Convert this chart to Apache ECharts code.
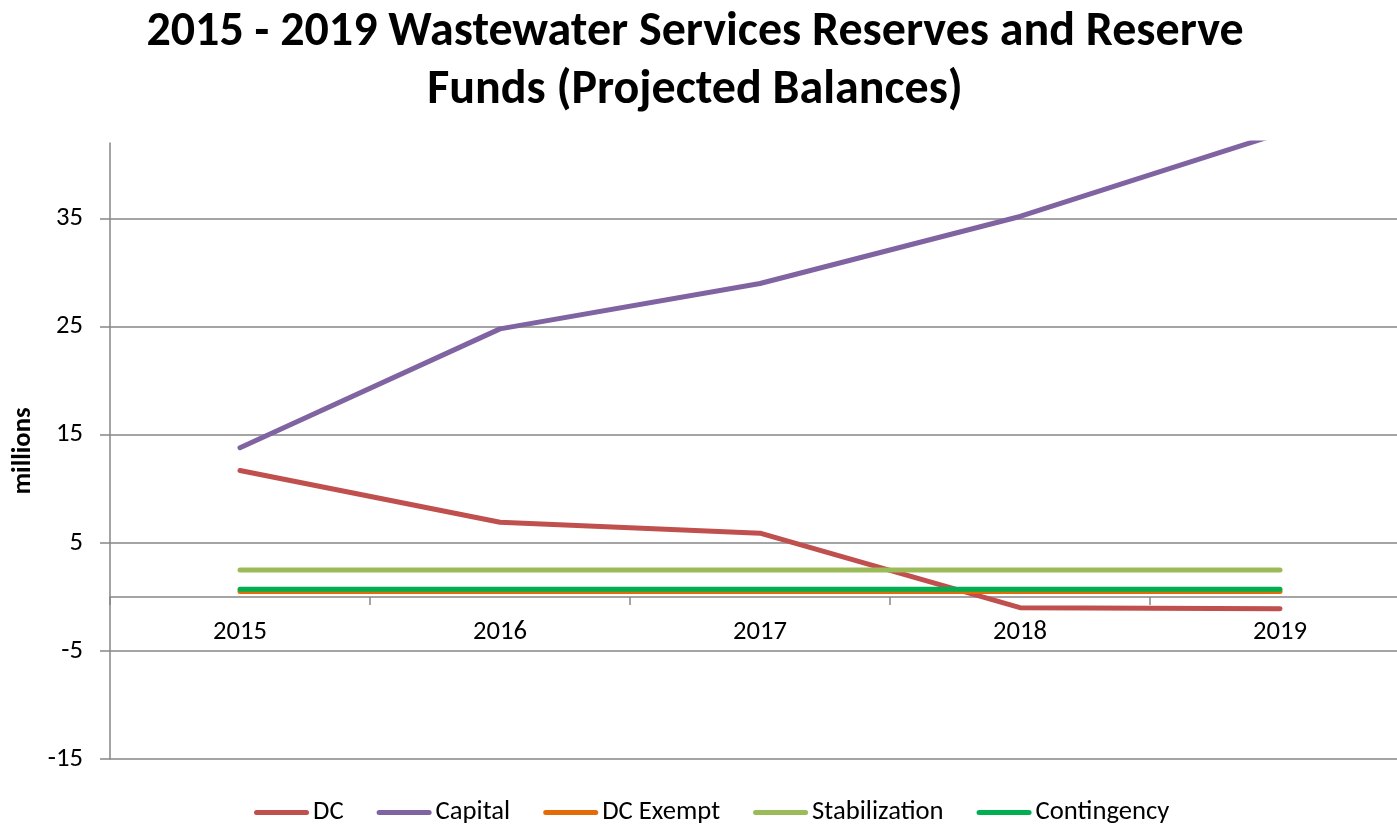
<!DOCTYPE html>
<html>
<head>
<meta charset="utf-8">
<script src="https://cdn.jsdelivr.net/npm/echarts@6/dist/echarts.min.js"></script>
<style>
  html, body { margin: 0; padding: 0; background: #ffffff; overflow: hidden; }
  #chart { width: 1410px; height: 826px; }
</style>
</head>
<body>
<div id="chart"></div>
<script>
// Reserve and reserve fund balances, millions of dollars
const years = ['2015', '2016', '2017', '2018', '2019'];
const dc = [11.7, 6.9, 5.9, -1.0, -1.1];
const capital = [13.8, 24.8, 29.0, 35.2, 42.9];
const dcExempt = [0.5, 0.5, 0.5, 0.5, 0.5];
const stabilization = [2.5, 2.5, 2.5, 2.5, 2.5];
const contingency = [0.7, 0.7, 0.7, 0.7, 0.7];

// Value axis tick labels
const yTicks = [-15, -5, 5, 15, 25, 35];

const FONT = "Carlito, Lato, 'Liberation Sans', sans-serif";
const TEXT_SIZE = 26.67;   // 20pt
const TITLE_SIZE = 48;     // 36pt
const GRID_GREY = '#868686';
// Capsule-shaped legend swatch, like a thick line with round ends
const LEGEND_ICON = 'path://M2.5,0 L52.5,0 A2.5,2.5 0 0 1 52.5,5 L2.5,5 A2.5,2.5 0 0 1 2.5,0 Z';

const chart = echarts.init(document.getElementById('chart'), null, { renderer: 'canvas' });

function lineSeries(name, data, color) {
  return {
    name: name,
    type: 'line',
    data: data,
    symbol: 'none',
    showSymbol: false,
    clip: true,
    lineStyle: { color: color, width: 5, cap: 'round', join: 'round' },
    itemStyle: { color: color },
    emphasis: { disabled: true },
    animation: false
  };
}

chart.setOption({
  animation: false,
  textStyle: { fontFamily: FONT },
  title: {
    text: '2015 - 2019 Wastewater Services Reserves and Reserve\nFunds (Projected Balances)',
    left: 695,
    textAlign: 'center',
    top: 4,
    padding: 0,
    textStyle: {
      fontFamily: FONT,
      fontSize: TITLE_SIZE,
      fontWeight: 'bold',
      color: '#000000',
      lineHeight: 58
    }
  },
  legend: {
    bottom: 0,
    left: 254,
    padding: 0,
    icon: LEGEND_ICON,
    itemWidth: 55,
    itemHeight: 5,
    itemGap: 33,
    textStyle: { fontFamily: FONT, fontSize: TEXT_SIZE, color: '#000000', padding: [0, 0, 0, -1] },
    data: ['DC', 'Capital', 'DC Exempt', 'Stabilization', 'Contingency']
  },
  grid: {
    left: 110,
    top: 143,
    width: 1300,
    height: 616,
    containLabel: false
  },
  xAxis: {
    type: 'category',
    data: years,
    boundaryGap: true,
    axisLine: { show: true, onZero: true, lineStyle: { color: GRID_GREY, width: 1.5 } },
    axisTick: { show: true, length: 8, alignWithLabel: false, lineStyle: { color: GRID_GREY, width: 1.5 } },
    axisLabel: { margin: -140, fontFamily: FONT, fontSize: TEXT_SIZE, color: '#000000' },
    splitLine: { show: false }
  },
  yAxis: {
    type: 'value',
    min: -15,
    max: 42,
    name: 'millions',
    nameLocation: 'middle',
    nameGap: 67,
    nameTextStyle: { fontFamily: FONT, fontSize: TEXT_SIZE, fontWeight: 'bold', color: '#000000' },
    axisLine: { show: true, lineStyle: { color: GRID_GREY, width: 1.5 } },
    axisTick: { show: true, length: 10, customValues: yTicks, lineStyle: { color: GRID_GREY, width: 1.5 } },
    axisLabel: { margin: 27, customValues: yTicks, fontFamily: FONT, fontSize: TEXT_SIZE, color: '#000000' },
    splitLine: { show: true, lineStyle: { color: GRID_GREY, width: 1.5 } }
  },
  series: [
    lineSeries('DC', dc, '#C0504D'),
    lineSeries('Capital', capital, '#8064A2'),
    lineSeries('DC Exempt', dcExempt, '#E36C09'),
    lineSeries('Stabilization', stabilization, '#9BBB59'),
    lineSeries('Contingency', contingency, '#00B050')
  ]
});
</script>
</body>
</html>
